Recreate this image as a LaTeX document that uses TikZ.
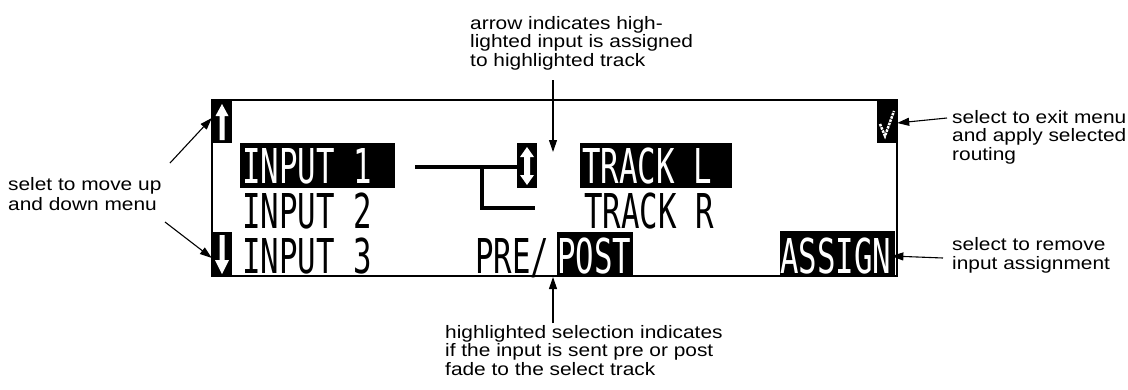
\documentclass[tikz,border=0pt]{standalone}
\usepackage{fontspec}
\setmainfont{Liberation Sans}
\newfontfamily\annfamily{Liberation Sans}[FakeStretch=1.16]
\newfontfamily\lcdfamily{DejaVu Sans Mono}[FakeStretch=0.64]
\usetikzlibrary{arrows.meta}
\tikzset{
  ann/.style={inner sep=0pt, anchor=north west, align=left, font=\annfamily\fontsize{18}{18.5}\selectfont},
  lcd/.style={inner sep=0pt, anchor=base west, font=\lcdfamily\fontsize{48}{48}\selectfont},
  lcdinv/.style={lcd, text=white},
  hl/.style={fill=black, draw=none},
  ptr/.style={line width=1.1pt, -{Triangle[length=12pt,width=8pt]}},
  wire/.style={line width=4pt},
  icon/.style={fill=white, draw=none},
}
\begin{document}
\begin{tikzpicture}[x=1pt,y=-1pt]
\useasboundingbox (0,0) rectangle (1128,389);
% display frame
\draw[line width=1.5pt] (212,100) rectangle (897,276);
% highlight boxes
\fill[hl] (212,100) rectangle (232,143);
\node[inner sep=0pt, minimum width=20pt, minimum height=43pt] (upbox) at (222,121.5) {};
\fill[hl] (212,232) rectangle (232,276);
\node[inner sep=0pt, minimum width=20pt, minimum height=44pt] (downbox) at (222,254) {};
\fill[hl] (517,143) rectangle (537,188);
\node[inner sep=0pt, minimum width=20pt, minimum height=45pt] (dblbox) at (527,165.5) {};
\fill[hl] (877,100) rectangle (897,143);
\node[inner sep=0pt, minimum width=20pt, minimum height=43pt] (checkbox) at (887,121.5) {};
\fill[hl] (240,143) rectangle (395,188);
\fill[hl] (580,143) rectangle (732,188);
\fill[hl] (557,232) rectangle (633,276);
\fill[hl] (780,231) rectangle (895,276);
% icons
\fill[icon] (222,104) -- (228.5,116) -- (224.5,116) -- (224.5,140) -- (219.5,140) -- (219.5,116) -- (215.5,116) -- cycle;
\fill[icon] (222,274) -- (229,260) -- (224.5,260) -- (224.5,235) -- (219.5,235) -- (219.5,260) -- (215,260) -- cycle;
\fill[icon] (527,147) -- (534,157) -- (530,157) -- (530,175) -- (534,175) -- (527,185) -- (520,175) -- (524,175) -- (524,157) -- (520,157) -- cycle;
\draw[white, line width=2.5pt, dash pattern=on 2.5pt off 1pt] (880,124) -- (885,136) -- (894,111);
% LCD texts
\node[lcdinv] (in1) at (242,183) {INPUT 1};
\node[lcd] (in2) at (242,228) {INPUT 2};
\node[lcd] (in3) at (242,273) {INPUT 3};
\node[lcdinv] (trl) at (582,183) {TRACK L};
\node[lcd] (trr) at (584,228) {TRACK R};
\node[lcd] (pre) at (475,273) {PRE/};
\node[lcdinv] (post) at (557,273) {POST};
\node[lcdinv] (assign) at (780,273) {ASSIGN};
% routing wires
\coordinate (wstart) at (415,167);
\coordinate (wjoin) at (482,167);
\coordinate (wcorner) at (482,208);
\coordinate (wend) at (535,208);
\draw[wire] (wstart) -- (dblbox.west |- wstart);
\draw[wire] (wjoin) -- (wcorner) -- (wend);
% annotations
\node[ann] (lefttext) at (8,177) {selet to move up\\[2pt]and down menu};
\node[ann] (toptext) at (470,16) {arrow indicates high-\\lighted input is assigned\\to highlighted track};
\node[ann] (exittext) at (952,110) {select to exit menu\\and apply selected\\routing};
\node[ann] (removetext) at (952,237) {select to remove\\[1pt]input assignment};
\node[ann] (bottext) at (445,325) {highlighted selection indicates\\if the input is sent pre or post\\fade to the select track};
% annotation arrows
\coordinate (lu) at (170,163);
\coordinate (ld) at (165,222);
\coordinate (ru) at (947,118);
\coordinate (rd) at (943,258);
\coordinate (tt) at (553,80);
\coordinate (ttend) at (553,152);
\coordinate (bb) at (553,323);
\coordinate (bbend) at (553,277);
\draw[ptr] (lu) -- (upbox.west |- 0,118);
\draw[ptr] (ld) -- (downbox.west |- 0,258);
\draw[ptr] (ru) -- (checkbox.east |- 0,123);
\draw[ptr] (rd) -- (assign.east |- 0,256);
\draw[ptr] (tt) -- (ttend);
\draw[ptr] (bb) -- (bbend);
\end{tikzpicture}
\end{document}
